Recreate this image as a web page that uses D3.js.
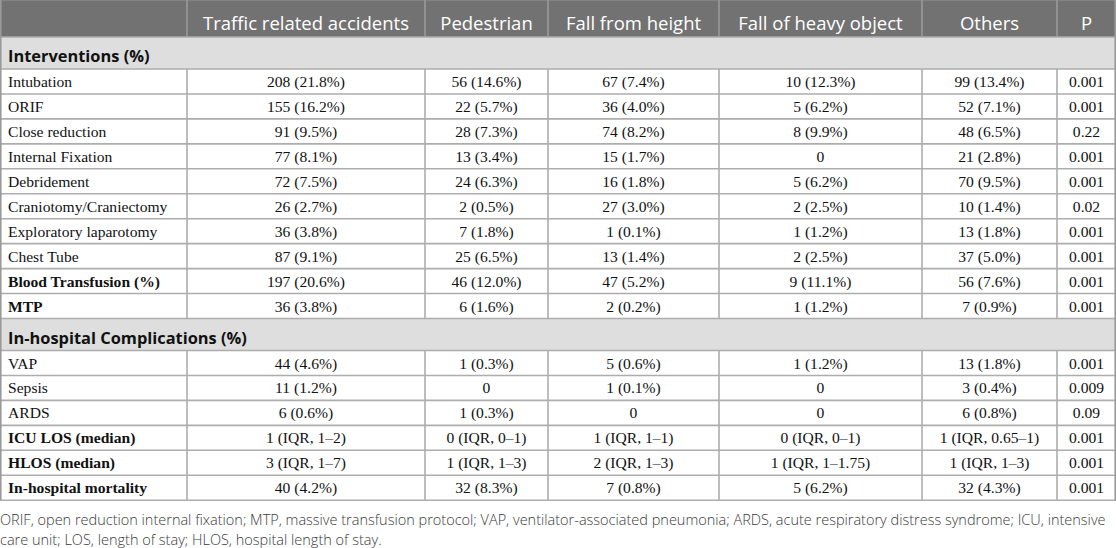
<!DOCTYPE html>
<html><head><meta charset="utf-8">
<script src="https://cdn.jsdelivr.net/npm/d3@7"></script>
<style>body{margin:0;background:#fff}svg{display:block}</style>
</head><body>
<svg id="t" width="1116" height="548"></svg>
<script>
const columns = ["Traffic related accidents","Pedestrian","Fall from height","Fall of heavy object","Others","P"];
const sections = ["Interventions (%)","In-hospital Complications (%)"];
const rowLabels = ["Intubation","ORIF","Close reduction","Internal Fixation","Debridement","Craniotomy/Craniectomy","Exploratory laparotomy","Chest Tube","Blood Transfusion (%)","MTP","VAP","Sepsis","ARDS","ICU LOS (median)","HLOS (median)","In-hospital mortality"];
const rowSection = [0,0,0,0,0,0,0,0,0,0,1,1,1,1,1,1];
const boldRows = ["Blood Transfusion (%)","MTP","ICU LOS (median)","HLOS (median)","In-hospital mortality"];
const traffic = ["208 (21.8%)","155 (16.2%)","91 (9.5%)","77 (8.1%)","72 (7.5%)","26 (2.7%)","36 (3.8%)","87 (9.1%)","197 (20.6%)","36 (3.8%)","44 (4.6%)","11 (1.2%)","6 (0.6%)","1 (IQR, 1–2)","3 (IQR, 1–7)","40 (4.2%)"];
const pedestrian = ["56 (14.6%)","22 (5.7%)","28 (7.3%)","13 (3.4%)","24 (6.3%)","2 (0.5%)","7 (1.8%)","25 (6.5%)","46 (12.0%)","6 (1.6%)","1 (0.3%)","0","1 (0.3%)","0 (IQR, 0–1)","1 (IQR, 1–3)","32 (8.3%)"];
const fallHeight = ["67 (7.4%)","36 (4.0%)","74 (8.2%)","15 (1.7%)","16 (1.8%)","27 (3.0%)","1 (0.1%)","13 (1.4%)","47 (5.2%)","2 (0.2%)","5 (0.6%)","1 (0.1%)","0","1 (IQR, 1–1)","2 (IQR, 1–3)","7 (0.8%)"];
const fallObject = ["10 (12.3%)","5 (6.2%)","8 (9.9%)","0","5 (6.2%)","2 (2.5%)","1 (1.2%)","2 (2.5%)","9 (11.1%)","1 (1.2%)","1 (1.2%)","0","0","0 (IQR, 0–1)","1 (IQR, 1–1.75)","5 (6.2%)"];
const others = ["99 (13.4%)","52 (7.1%)","48 (6.5%)","21 (2.8%)","70 (9.5%)","10 (1.4%)","13 (1.8%)","37 (5.0%)","56 (7.6%)","7 (0.9%)","13 (1.8%)","3 (0.4%)","6 (0.8%)","1 (IQR, 0.65–1)","1 (IQR, 1–3)","32 (4.3%)"];
const pValues = ["0.001","0.001","0.22","0.001","0.001","0.02","0.001","0.001","0.001","0.001","0.001","0.009","0.09","0.001","0.001","0.001"];
const footnoteLines = ["ORIF, open reduction internal fixation; MTP, massive transfusion protocol; VAP, ventilator-associated pneumonia; ARDS, acute respiratory distress syndrome; ICU, intensive","care unit; LOS, length of stay; HLOS, hospital length of stay."];

const seriesCols = [traffic, pedestrian, fallHeight, fallObject, others, pValues];

// layout
const colEdges = [0, 187, 425, 548, 719, 922, 1057, 1116];
const x = d3.scaleOrdinal().domain(d3.range(colEdges.length)).range(colEdges);
const headerH = 37, sectionH = 32, rowH = 24.95;

const items = [];
let y = headerH;
items.push({type:"header", y0:0, y1:headerH});
let prevSec = -1;
rowLabels.forEach((lab,i)=>{
  if (rowSection[i] !== prevSec){
    items.push({type:"section", label:sections[rowSection[i]], y0:y, y1:y+sectionH});
    y += sectionH; prevSec = rowSection[i];
  }
  items.push({type:"row", i, label:lab, y0:y, y1:y+rowH});
  y += rowH;
});
const tableBottom = y;

const svg = d3.select("#t");
const gridColor = "#adadad";
const serif = "'Liberation Serif','Times New Roman',serif";
const sans = "'Open Sans','Noto Sans',sans-serif";
const bodySize = 15.6;

svg.selectAll("rect.bg").data(items.filter(d=>d.type!=="row")).join("rect")
  .attr("x",0).attr("y",d=>d.y0).attr("width",1116).attr("height",d=>d.y1-d.y0)
  .attr("fill",d=>d.type==="header"?"#727272":"#dedede");

svg.append("g").selectAll("text").data(columns).join("text")
  .attr("x",(d,j)=>(x(j+1)+x(j+2))/2).attr("y",30)
  .attr("text-anchor","middle")
  .attr("font-family",sans).attr("font-size",18.5).attr("fill","#fff").text(d=>d);

svg.append("g").selectAll("text").data(items.filter(d=>d.type==="section")).join("text")
  .attr("x",8).attr("y",d=>d.y0+25)
  .attr("font-family",sans).attr("font-weight","bold").attr("font-size",16.4).attr("fill","#111").text(d=>d.label);

const rows = items.filter(d=>d.type==="row");
svg.append("g").selectAll("text").data(rows).join("text")
  .attr("x",8).attr("y",d=>d.y0+18)
  .attr("font-family",serif).attr("font-size",bodySize)
  .attr("font-weight",d=>boldRows.includes(d.label)?"bold":"normal")
  .attr("fill","#111").text(d=>d.label);

seriesCols.forEach((col,j)=>{
  svg.append("g").selectAll("text").data(rows).join("text")
    .attr("x",(x(j+1)+x(j+2))/2).attr("y",d=>d.y0+18)
    .attr("text-anchor","middle")
    .attr("font-family",serif).attr("font-size",bodySize).attr("fill","#111")
    .text(d=>col[d.i]);
});

const hLines = [0, ...items.map(d=>d.y1)];
svg.append("g").selectAll("line").data(hLines).join("line")
  .attr("x1",0).attr("x2",1116).attr("y1",d=>d).attr("y2",d=>d)
  .attr("stroke",(d,i)=>i===0?"#8a8a8a":gridColor).attr("stroke-width",1.6);

const vX = colEdges.slice(1,-1);
svg.append("g").selectAll("line").data(vX).join("line")
  .attr("x1",d=>d).attr("x2",d=>d).attr("y1",0).attr("y2",headerH)
  .attr("stroke","#9a9a9a").attr("stroke-width",1.6);
rows.forEach(r=>{
  svg.append("g").selectAll("line").data(vX).join("line")
    .attr("x1",d=>d).attr("x2",d=>d).attr("y1",r.y0).attr("y2",r.y1)
    .attr("stroke",gridColor).attr("stroke-width",1.6);
});
svg.append("g").selectAll("line").data([0.8,1115.2]).join("line")
  .attr("x1",d=>d).attr("x2",d=>d).attr("y1",0).attr("y2",tableBottom)
  .attr("stroke","#9a9a9a").attr("stroke-width",1.6);

svg.append("g").selectAll("text").data(footnoteLines).join("text")
  .attr("x",0).attr("y",(d,i)=>tableBottom+25+i*19.5)
  .attr("font-family",sans).attr("font-weight",300).attr("font-size",14.5).attr("fill","#3a3a3a").text(d=>d);
</script>
</body></html>
